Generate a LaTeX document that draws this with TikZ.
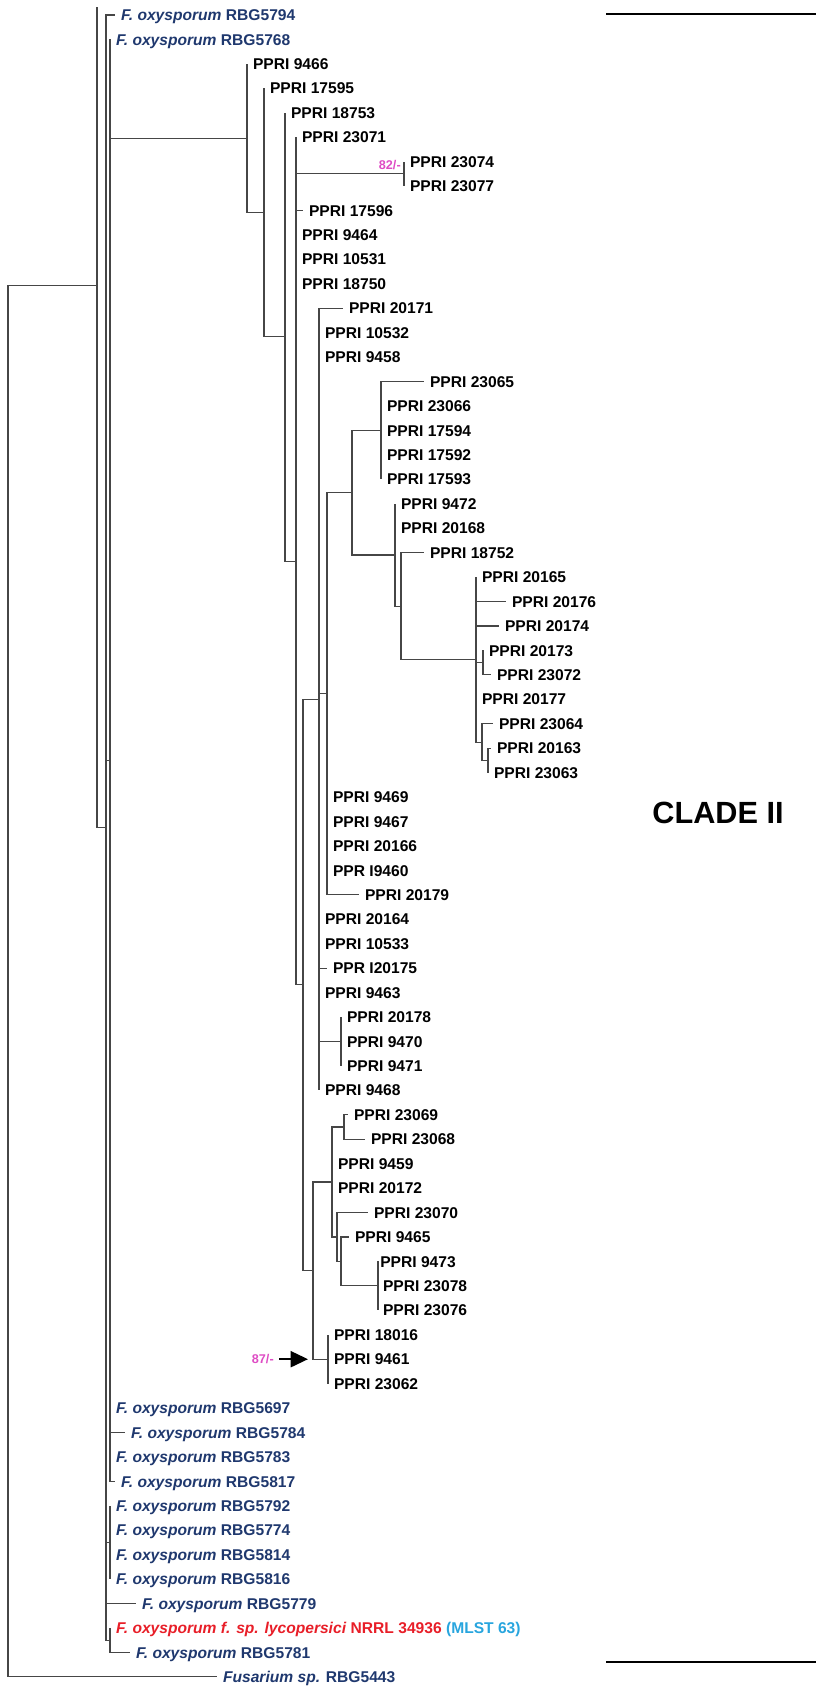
\documentclass[tikz,border=0pt]{standalone}
\usepackage{fontspec}
\setmainfont{Liberation Sans}
\usetikzlibrary{arrows.meta}
\definecolor{navy}{RGB}{31,56,110}
\definecolor{fred}{RGB}{232,30,40}
\definecolor{fcyan}{RGB}{40,165,222}
\definecolor{boot}{RGB}{222,76,196}
\definecolor{branch}{RGB}{70,70,70}
\newcommand{\fox}[1]{\textit{F. oxysporum} #1}
\begin{document}
\begin{tikzpicture}[x=0.75pt,y=-18.33pt,
  leaf/.style={anchor=west,inner xsep=4.35pt,inner ysep=0pt,
    font=\fontsize{11.7}{14}\selectfont\bfseries,text height=8.4pt,text depth=0pt},
  fleaf/.style={leaf,text=navy},
  edge/.style={draw=branch,line width=0.8pt},
  boottxt/.style={text=boot,font=\fontsize{9.5}{11}\selectfont\bfseries,inner sep=0pt},
  bracket/.style={draw=black,line width=2.2pt}]
\useasboundingbox (0,0.3863) rectangle (816,69.372);

% internal nodes
\coordinate (root) at (8,40.525);
\coordinate (n97) at (97,12.05);
\coordinate (ntop) at (97,0.673);
\coordinate (n106) at (106,34.25);
\coordinate (n110) at (110,31.5);
\coordinate (n110b) at (110,63.5);
\coordinate (n110c) at (110,67.5);
\coordinate (n247) at (247,6.043);
\coordinate (n264) at (264,9.086);
\coordinate (n285) at (285,14.172);
\coordinate (n296) at (296,23.344);
\coordinate (n404) at (404,7.5);
\coordinate (n303) at (303,40.6875);
\coordinate (n319) at (319,29);
\coordinate (n327) at (327,28.77);
\coordinate (n352) at (352,20.547);
\coordinate (n381) at (381,18);
\coordinate (n395) at (395,23.094);
\coordinate (n401) at (401,25.1875);
\coordinate (n476) at (476,27.375);
\coordinate (n483) at (483,27.5);
\coordinate (n482) at (482,30.75);
\coordinate (n488) at (488,31.5);
\coordinate (n341) at (341,43);
\coordinate (n313) at (313,52.375);
\coordinate (n332) at (332,48.75);
\coordinate (n344) at (344,46.5);
\coordinate (n337) at (337,51);
\coordinate (nb341) at (341,52);
\coordinate (n378) at (378,53);
\coordinate (n328) at (328,56);

% leaves
\node[fleaf] (l1) at (115,1) {\fox{RBG5794}};
\node[fleaf] (l2) at (110,2) {\fox{RBG5768}};
\node[leaf] (l3) at (247,3) {PPRI 9466};
\node[leaf] (l4) at (264,4) {PPRI 17595};
\node[leaf] (l5) at (285,5) {PPRI 18753};
\node[leaf] (l6) at (296,6) {PPRI 23071};
\node[leaf] (l7) at (404,7) {PPRI 23074};
\node[leaf] (l8) at (404,8) {PPRI 23077};
\node[leaf] (l9) at (303,9) {PPRI 17596};
\node[leaf] (l10) at (296,10) {PPRI 9464};
\node[leaf] (l11) at (296,11) {PPRI 10531};
\node[leaf] (l12) at (296,12) {PPRI 18750};
\node[leaf] (l13) at (343,13) {PPRI 20171};
\node[leaf] (l14) at (319,14) {PPRI 10532};
\node[leaf] (l15) at (319,15) {PPRI 9458};
\node[leaf] (l16) at (424,16) {PPRI 23065};
\node[leaf] (l17) at (381,17) {PPRI 23066};
\node[leaf] (l18) at (381,18) {PPRI 17594};
\node[leaf] (l19) at (381,19) {PPRI 17592};
\node[leaf] (l20) at (381,20) {PPRI 17593};
\node[leaf] (l21) at (395,21) {PPRI 9472};
\node[leaf] (l22) at (395,22) {PPRI 20168};
\node[leaf] (l23) at (424,23) {PPRI 18752};
\node[leaf] (l24) at (476,24) {PPRI 20165};
\node[leaf] (l25) at (506,25) {PPRI 20176};
\node[leaf] (l26) at (499,26) {PPRI 20174};
\node[leaf] (l27) at (483,27) {PPRI 20173};
\node[leaf] (l28) at (491,28) {PPRI 23072};
\node[leaf] (l29) at (476,29) {PPRI 20177};
\node[leaf] (l30) at (493,30) {PPRI 23064};
\node[leaf] (l31) at (491,31) {PPRI 20163};
\node[leaf] (l32) at (488,32) {PPRI 23063};
\node[leaf] (l33) at (327,33) {PPRI 9469};
\node[leaf] (l34) at (327,34) {PPRI 9467};
\node[leaf] (l35) at (327,35) {PPRI 20166};
\node[leaf] (l36) at (327,36) {PPR I9460};
\node[leaf] (l37) at (359,37) {PPRI 20179};
\node[leaf] (l38) at (319,38) {PPRI 20164};
\node[leaf] (l39) at (319,39) {PPRI 10533};
\node[leaf] (l40) at (327,40) {PPR I20175};
\node[leaf] (l41) at (319,41) {PPRI 9463};
\node[leaf] (l42) at (341,42) {PPRI 20178};
\node[leaf] (l43) at (341,43) {PPRI 9470};
\node[leaf] (l44) at (341,44) {PPRI 9471};
\node[leaf] (l45) at (319,45) {PPRI 9468};
\node[leaf] (l46) at (348,46) {PPRI 23069};
\node[leaf] (l47) at (365,47) {PPRI 23068};
\node[leaf] (l48) at (332,48) {PPRI 9459};
\node[leaf] (l49) at (332,49) {PPRI 20172};
\node[leaf] (l50) at (368,50) {PPRI 23070};
\node[leaf] (l51) at (349,51) {PPRI 9465};
\node[leaf,inner xsep=1.5pt] (l52) at (378,52) {PPRI 9473};
\node[leaf,inner xsep=3.6pt] (l53) at (378,53) {PPRI 23078};
\node[leaf,inner xsep=3.6pt] (l54) at (378,54) {PPRI 23076};
\node[leaf] (l55) at (328,55) {PPRI 18016};
\node[leaf] (l56) at (328,56) {PPRI 9461};
\node[leaf] (l57) at (328,57) {PPRI 23062};
\node[fleaf] (l58) at (110,58) {\fox{RBG5697}};
\node[fleaf] (l59) at (125,59) {\fox{RBG5784}};
\node[fleaf] (l60) at (110,60) {\fox{RBG5783}};
\node[fleaf] (l61) at (115,61) {\fox{RBG5817}};
\node[fleaf] (l62) at (110,62) {\fox{RBG5792}};
\node[fleaf] (l63) at (110,63) {\fox{RBG5774}};
\node[fleaf] (l64) at (110,64) {\fox{RBG5814}};
\node[fleaf] (l65) at (110,65) {\fox{RBG5816}};
\node[fleaf] (l66) at (136,66) {\fox{RBG5779}};
\node[leaf] (l67) at (110,67) {\textcolor{fred}{\textit{F. oxysporum f. sp. lycopersici} NRRL 34936} \textcolor{fcyan}{(MLST 63)}};
\node[fleaf] (l68) at (130,68) {\fox{RBG5781}};
\node[fleaf] (l69) at (217,69) {\textit{Fusarium sp.} RBG5443};

% branches
\draw[edge] (root) |- (n97);
\draw[edge] (root) |- (l69.west);
\draw[edge] (n97) -- (ntop);
\draw[edge] (n97) |- (n106);
\foreach \c in {l1.west,n110,n110b,l66.west,n110c} \draw[edge] (n106) |- (\c);
\foreach \c in {l2,l58,l59,l60,l61} \draw[edge] (n110) |- (\c.west);
\draw[edge] (n110) |- (n247);
\foreach \c in {l62,l63,l64,l65} \draw[edge] (n110b) |- (\c.west);
\foreach \c in {l67,l68} \draw[edge] (n110c) |- (\c.west);
\draw[edge] (n247) |- (l3.west);
\draw[edge] (n247) |- (n264);
\draw[edge] (n264) |- (l4.west);
\draw[edge] (n264) |- (n285);
\draw[edge] (n285) |- (l5.west);
\draw[edge] (n285) |- (n296);
\foreach \c in {l6.west,n404,l9.west,l10.west,l11.west,l12.west,n303} \draw[edge] (n296) |- (\c);
\foreach \c in {l7,l8} \draw[edge] (n404) |- (\c.west);
\foreach \c in {n319,n313} \draw[edge] (n303) |- (\c);
\foreach \c in {l13.west,l14.west,l15.west,n327,l38.west,l39.west,l40.west,l41.west,n341,l45.west} \draw[edge] (n319) |- (\c);
\foreach \c in {n352,l33.west,l34.west,l35.west,l36.west,l37.west} \draw[edge] (n327) |- (\c);
\foreach \c in {n381,n395} \draw[edge] (n352) |- (\c);
\foreach \c in {l16,l17,l18,l19,l20} \draw[edge] (n381) |- (\c.west);
\foreach \c in {l21.west,l22.west,n401} \draw[edge] (n395) |- (\c);
\foreach \c in {l23.west,n476} \draw[edge] (n401) |- (\c);
\foreach \c in {l24.west,l25.west,l26.west,n483,l29.west,n482} \draw[edge] (n476) |- (\c);
\foreach \c in {l27,l28} \draw[edge] (n483) |- (\c.west);
\foreach \c in {l30.west,n488} \draw[edge] (n482) |- (\c);
\foreach \c in {l31,l32} \draw[edge] (n488) |- (\c.west);
\foreach \c in {l42,l43,l44} \draw[edge] (n341) |- (\c.west);
\foreach \c in {n332,n328} \draw[edge] (n313) |- (\c);
\foreach \c in {n344,l48.west,l49.west,n337} \draw[edge] (n332) |- (\c);
\foreach \c in {l46,l47} \draw[edge] (n344) |- (\c.west);
\foreach \c in {l50.west,nb341} \draw[edge] (n337) |- (\c);
\foreach \c in {l51.west,n378} \draw[edge] (nb341) |- (\c);
\foreach \c in {l52,l53,l54} \draw[edge] (n378) |- (\c.west);
\foreach \c in {l55,l56,l57} \draw[edge] (n328) |- (\c.west);

% support values
\node[boottxt,anchor=east] (b82) at (401,7.12) {82/-};
\node[boottxt,anchor=east,inner xsep=3.75pt] (b87) at (279,56) {87/-};
\coordinate (tip87) at (308,56);
\draw[line width=1.6pt,-{Triangle[length=13pt,width=12pt]}] (b87.east) -- (tip87);

% clade bracket
\coordinate (bt1) at (606,0.959);
\coordinate (bt2) at (816,0.959);
\coordinate (bb1) at (606,68.39);
\coordinate (bb2) at (816,68.39);
\draw[bracket] (bt1) -- (bt2);
\draw[bracket] (bb1) -- (bb2);
\node[font=\fontsize{23}{28}\selectfont\bfseries] (clade) at (718,33.65) {CLADE II};
\end{tikzpicture}
\end{document}
